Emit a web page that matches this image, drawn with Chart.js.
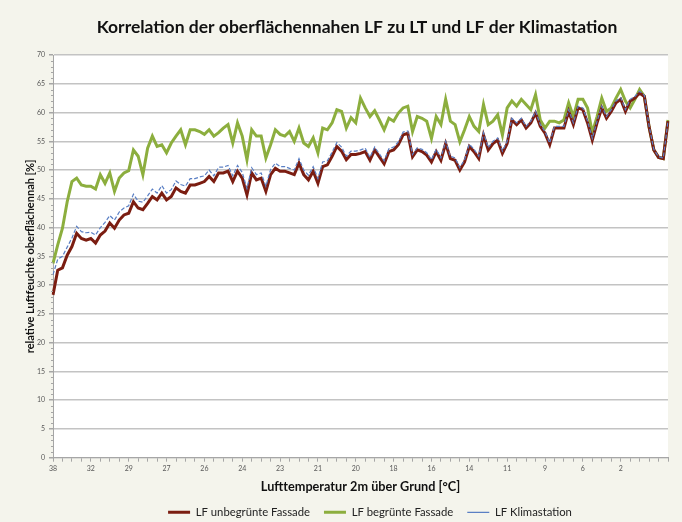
<!DOCTYPE html>
<html>
<head>
<meta charset="utf-8">
<script src="https://cdn.jsdelivr.net/npm/chart.js@4"></script>
<style>
  html, body { margin: 0; padding: 0; background: #f4f4ec; }
</style>
</head>
<body>
<canvas id="myChart" width="682" height="522"></canvas>
<script>
/* DATA */

var tickLabels = ['38', '32', '29', '27', '26', '24', '23', '21', '20', '18', '16', '14', '11', '9', '6', '2'];
var labelStep = 8;

// LF unbegruente Fassade
var lfUnbegruent = [
  28.3, 32.6, 33, 35.2, 36.7, 39, 38.1, 37.8, 38.1, 37.3,
  38.7, 39.4, 40.8, 39.9, 41.3, 42.2, 42.5, 44.5, 43.4, 43.1,
  44.2, 45.4, 44.8, 46, 44.8, 45.4, 46.9, 46.3, 46, 47.4,
  47.4, 47.7, 48, 48.9, 48, 49.5, 49.5, 49.8, 48, 49.8,
  48.6, 45.7, 49.5, 48.3, 48.6, 46.3, 49.2, 50.3, 49.8, 49.8,
  49.5, 49.2, 51.2, 49.2, 48.3, 49.8, 47.7, 50.6, 50.9, 52.4,
  54.1, 53.3, 51.8, 52.7, 52.7, 52.9, 53.2, 51.7, 53.5, 52.3,
  51.1, 53.2, 53.5, 54.4, 56.1, 56.4, 52.3, 53.5, 53.2, 52.6,
  51.4, 53.2, 51.7, 54.6, 52, 51.7, 50, 51.4, 54.1, 53.2,
  52, 56.1, 53.5, 54.6, 55.2, 52.9, 54.6, 58.7, 57.9, 58.7,
  57.3, 58.2, 59.9, 57.6, 56.4, 54.4, 57.3, 57.3, 57.3, 60.2,
  57.9, 60.8, 60.5, 58.2, 55.2, 58.2, 60.8, 59, 60.2, 61.7,
  62.3, 60.2, 62, 62.5, 63.4, 62.8, 57.5, 53.5, 52.2, 52, 58.5
];

// LF begruente Fassade
var lfBegruent = [
  33.8, 37, 39.9, 44.5, 48, 48.6, 47.4, 47.2, 47.2, 46.7,
  49.2, 47.7, 49.5, 46.3, 48.6, 49.5, 49.9, 53.5, 52.4, 49.2,
  53.8, 55.9, 54.1, 54.4, 53, 54.7, 55.9, 57, 54.4, 57,
  57, 56.7, 56.2, 57, 55.9, 56.5, 57.3, 57.9, 54.7, 58.2,
  55.9, 51.8, 57, 55.9, 55.9, 52.1, 54.4, 57, 56.2, 55.9,
  56.7, 55, 57.3, 54.7, 54.1, 55.6, 53, 57.3, 57, 58.2,
  60.5, 60.2, 57.3, 59.1, 58.2, 62.5, 60.8, 59.3, 60.3, 58.7,
  57, 59, 58.5, 59.9, 60.8, 61.1, 56.7, 59.3, 59, 58.5,
  55.5, 59.3, 57.9, 62.3, 58.5, 57.9, 54.9, 57, 59.3, 57.6,
  56.7, 61.4, 57.9, 58.5, 59.6, 56.1, 60.8, 62, 61.1, 62.3,
  61.4, 60.5, 63.1, 58.7, 57.3, 58.5, 58.5, 58.2, 58.7, 61.7,
  59.3, 62.3, 62.3, 60.8, 56.5, 59.3, 62.5, 60.2, 60.8, 62.5,
  64, 62, 60.8, 62.3, 64, 62.8, 57.5, 53.5, 52.2, 52, 58.7
];

// LF Klimastation
var lfKlimastation = [
  31.8, 34.5, 35, 36.6, 38.2, 40.2, 39.3, 39.1, 39.2, 38.7,
  40, 40.9, 42.1, 41.3, 42.7, 43.4, 43.8, 45.8, 44.6, 44.4,
  45.5, 46.7, 46, 47.3, 46, 46.6, 48.1, 47.5, 47.2, 48.5,
  48.5, 48.8, 49, 50, 49, 50.5, 50.5, 50.8, 49, 50.8,
  49.6, 46.8, 50.4, 49.2, 49.5, 47.2, 50.1, 51.2, 50.6, 50.6,
  50.3, 50, 52, 50, 49.1, 50.6, 48.5, 51.4, 51.6, 53.1,
  54.8, 54, 52.4, 53.3, 53.3, 53.5, 53.8, 52.2, 54, 52.8,
  51.6, 53.7, 54, 54.9, 56.6, 56.8, 52.7, 53.9, 53.6, 53,
  51.8, 53.6, 52.1, 55, 52.4, 52.1, 50.4, 51.8, 54.5, 53.6,
  52.4, 56.5, 53.9, 55, 55.6, 53.3, 55, 59, 58.2, 59,
  57.6, 58.5, 60.2, 57.9, 56.7, 54.7, 57.6, 57.6, 57.6, 60.5,
  58.2, 61.1, 60.8, 58.5, 55.5, 58.5, 61.1, 59.3, 60.5, 62,
  62.6, 60.5, 62.3, 62.8, 63.7, 63, 57.7, 53.6, 52.3, 52.1, 58.5
];

// one category per measurement, labelled every 8th
var categories = lfUnbegruent.map(function(v, i) {
  return i % labelStep === 0 ? (tickLabels[i / labelStep] || '') : '';
});

/* PLUGINS */

var backgroundPlugin = {
  id: 'background',
  beforeDraw: function(chart) {
    var c = chart.ctx, a = chart.chartArea;
    c.save();
    c.fillStyle = '#f4f4ec';
    c.fillRect(0, 0, chart.width, chart.height);
    c.fillStyle = '#ffffff';
    c.fillRect(a.left, a.top, a.right - a.left, a.bottom - a.top);
    c.restore();
  }
};

// small minor ticks on the y axis
var minorTicksPlugin = {
  id: 'minorTicks',
  afterDraw: function(chart) {
    var c = chart.ctx, y = chart.scales.y, left = chart.chartArea.left;
    c.save();
    c.strokeStyle = '#a6a6a6';
    c.lineWidth = 1;
    for (var v = 0; v <= 70; v++) {
      if (v % 5 === 0) continue;
      var py = Math.round(y.getPixelForValue(v)) + 0.5;
      c.beginPath();
      c.moveTo(left - 2, py);
      c.lineTo(left, py);
      c.stroke();
    }
    c.restore();
  }
};

// title and legend sit a little right of centre in the original
var shiftPlugin = {
  id: 'shift',
  afterLayout: function(chart) {
    chart.legend.left += 25;
    chart.legend.right += 25;
    chart.legend.top -= 7;
    chart.legend.bottom -= 7;
    chart.titleBlock.left += 12;
    chart.titleBlock.right += 12;
  }
};

/* CHART */

var ctx = document.getElementById('myChart').getContext('2d');

var chart = new Chart(ctx, {
  type: 'line',
  data: {
    labels: categories,
    datasets: [{
      label: 'LF unbegrünte Fassade',
      data: lfUnbegruent,
      borderColor: '#7b1d11',
      backgroundColor: '#7b1d11',
      borderWidth: 3,
      pointRadius: 0,
      pointStyle: 'line',
      tension: 0,
      order: 1
    },
    {
      label: 'LF begrünte Fassade',
      data: lfBegruent,
      borderColor: '#8cae3e',
      backgroundColor: '#8cae3e',
      borderWidth: 3,
      pointRadius: 0,
      pointStyle: 'line',
      tension: 0,
      order: 2
    },
    {
      label: 'LF Klimastation',
      data: lfKlimastation,
      borderColor: '#5a7fc4',
      backgroundColor: '#5a7fc4',
      borderWidth: 1.2,
      borderDash: [4, 2],
      pointRadius: 0,
      pointStyle: 'line',
      tension: 0,
      order: 0
    }]
  },
  options: {
    responsive: false,
    animation: false,
    layout: { padding: { left: 22, right: 14, top: 0, bottom: -13 } },
    plugins: {
      title: {
        display: true,
        text: 'Korrelation der oberflächennahen LF zu LT und LF der Klimastation',
        color: '#111111',
        font: { family: 'Lato', size: 17.5, weight: 'bold' },
        padding: { top: 16.5, bottom: 17.5 }
      },
      legend: {
        position: 'bottom',
        labels: {
          usePointStyle: true,
          pointStyleWidth: 22,
          color: '#222222',
          font: { family: 'Lato', size: 11.3 },
          padding: 14,
          sort: function(a, b) { return a.datasetIndex - b.datasetIndex; }
        }
      },
      tooltip: { enabled: false }
    },
    scales: {
      x: {
        offset: false,
        grid: {
          display: true,
          drawOnChartArea: false,
          tickLength: 4,
          tickColor: function(c) { return c.index % 2 === 0 ? '#a6a6a6' : 'rgba(0,0,0,0)'; }
        },
        border: { color: '#a6a6a6' },
        ticks: {
          autoSkip: false,
          maxRotation: 0,
          color: '#595959',
          font: { family: 'Lato', size: 7 },
          padding: 3
        },
        title: {
          display: true,
          text: 'Lufttemperatur 2m über Grund [°C]',
          color: '#111111',
          font: { family: 'Lato', size: 12.7, weight: 'bold' },
          padding: { top: 6, bottom: 5 }
        },
        afterFit: function(s) { s.height = 42; }
      },
      y: {
        min: 0,
        max: 70,
        ticks: {
          stepSize: 5,
          color: '#595959',
          font: { family: 'Lato', size: 7 },
          padding: 4
        },
        grid: { color: '#c3c3c3', lineWidth: 1.5, tickLength: 4, tickColor: '#a6a6a6' },
        border: { color: '#a6a6a6' },
        title: {
          display: true,
          text: 'relative Luftfeuchte oberflächennah [%]',
          color: '#111111',
          font: { family: 'Lato', size: 11, weight: 'bold' },
          padding: { top: 2, bottom: 2 }
        },
        afterFit: function(s) { s.width = 31; }
      }
    }
  },
  plugins: [backgroundPlugin, minorTicksPlugin, shiftPlugin]
});
</script>
</body>
</html>
